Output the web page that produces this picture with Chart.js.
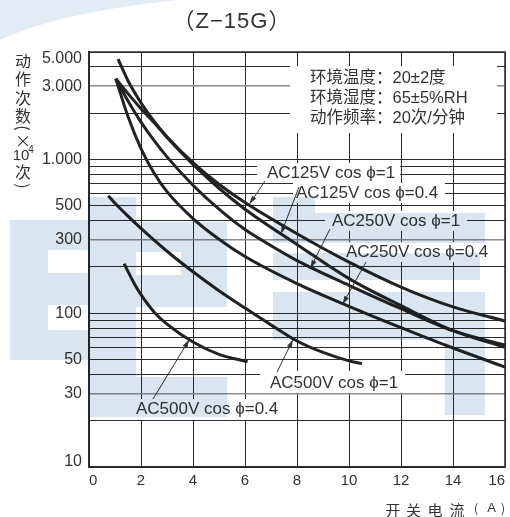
<!DOCTYPE html>
<html>
<head>
<meta charset="utf-8">
<script src="https://cdn.jsdelivr.net/npm/chart.js@4.4.0/dist/chart.umd.min.js"></script>
<style>
  html, body { margin: 0; padding: 0; background: #fff; }
  canvas { display: block; }
</style>
</head>
<body>
<canvas id="life-chart" width="510" height="517"></canvas>
<script>
// Z-15G switch life curves: x = switching current (A), y = operations (x10^4)
const xTickValues = [0, 2, 4, 6, 8, 10, 12, 14, 16];
const yGridValues = [10, 20, 30, 40, 50, 60, 70, 80, 90, 100, 200, 300, 400, 500, 600, 700, 800, 900, 1000, 2000, 3000, 4000, 5000];
const yLabelValues = [10, 30, 50, 100, 300, 500, 1000, 3000, 5000];
const yLabelTexts = ['10', '30', '50', '100', '300', '500', '1.000', '3.000', '5.000'];

const seriesLabels = ['AC125V cos ϕ=1', 'AC125V cos ϕ=0.4', 'AC250V cos ϕ=1', 'AC250V cos ϕ=0.4', 'AC500V cos ϕ=1', 'AC500V cos ϕ=0.4'];

const ac125pf1X = [1.12, 1.5, 2, 2.5, 3, 4, 5, 6, 8, 10, 12, 14, 16];
const ac125pf1Y = [4500, 3250, 2335, 1778, 1407, 953, 690, 525, 329, 215, 148, 110, 89];

const ac125pf04X = [1.03, 1.5, 2, 2.5, 3, 4, 5, 6, 8, 10, 12, 14, 16];
const ac125pf04Y = [3350, 2680, 2140, 1740, 1390, 930, 650, 475, 280, 168, 112, 77, 60];

const ac250pf1X = [1.03, 1.5, 2, 2.5, 3, 4, 5, 6, 7, 8, 10, 12, 14, 16];
const ac250pf1Y = [3350, 2400, 1750, 1330, 1040, 680, 475, 350, 275, 220, 152, 107, 77, 62];

const ac250pf04X = [1.03, 1.5, 2, 2.5, 3, 4, 5, 6, 8, 10, 12, 14, 16];
const ac250pf04Y = [3350, 1905, 1178, 817, 618, 413, 303, 234, 156, 111, 80.6, 59.4, 44.7];

const ac500pf1X = [0.74, 1, 1.5, 2, 3, 4, 5, 6, 7, 8, 9, 10, 10.5];
const ac500pf1Y = [580, 519, 428, 356, 253, 186, 140, 108, 84, 66, 55.6, 49, 47];

const ac500pf04X = [1.35, 1.75, 2, 2.5, 3, 4, 5, 6.1];
const ac500pf04Y = [210, 155, 132, 102, 85, 65, 54, 48.4];

// arrow tips sit on the curves, given in data units
const arrowTipX = [6.18, 7.39, 8.52, 9.76, 7.84, 3.85];
const arrowTipY = [515, 330, 197, 115, 67, 67];

const seriesX = [ac125pf1X, ac125pf04X, ac250pf1X, ac250pf04X, ac500pf1X, ac500pf04X];
const seriesY = [ac125pf1Y, ac125pf04Y, ac250pf1Y, ac250pf04Y, ac500pf1Y, ac500pf04Y];

const LATIN = '"Liberation Sans", Arial, sans-serif';
const CJK = '"Liberation Sans", "Noto Sans CJK SC", sans-serif';
const INK = '#333';

// label layout: text start x, text mid y, white box [x1, y1, x2, y2], arrow tail [x, y]
const labelLayout = [
  { x: 267, y: 173, box: [257, 163, 400, 183], tail: [265, 181] },
  { x: 296, y: 193, box: [293, 183, 445, 203], tail: [299, 187] },
  { x: 332, y: 221, box: [325, 211, 467, 231], tail: [330, 229] },
  { x: 346, y: 252, box: [340, 242, 498, 262], tail: [366, 262] },
  { x: 270, y: 383, box: [260, 371, 405, 393], tail: [277, 372] },
  { x: 136, y: 409, box: [133, 399, 289, 420], tail: [153, 399] }
];

function drawArrow(ctx, x1, y1, x2, y2) {
  ctx.beginPath();
  ctx.moveTo(x1, y1);
  ctx.lineTo(x2, y2);
  ctx.stroke();
  const a = Math.atan2(y2 - y1, x2 - x1), L = 8, W = 2.6;
  ctx.beginPath();
  ctx.moveTo(x2, y2);
  ctx.lineTo(x2 - L * Math.cos(a) + W * Math.sin(a), y2 - L * Math.sin(a) - W * Math.cos(a));
  ctx.lineTo(x2 - L * Math.cos(a) - W * Math.sin(a), y2 - L * Math.sin(a) + W * Math.cos(a));
  ctx.closePath();
  ctx.fill();
}

function rotatedChar(ctx, ch, x, y) {
  ctx.save();
  ctx.translate(x, y);
  ctx.rotate(Math.PI / 2);
  ctx.fillText(ch, 0, 0);
  ctx.restore();
}

const overlay = {
  id: 'overlay',
  beforeDraw(chart) {
    const ctx = chart.ctx;
    ctx.save();
    ctx.fillStyle = '#fff';
    ctx.fillRect(0, 0, chart.width, chart.height);
    ctx.restore();
  },
  beforeDatasetsDraw(chart) {
    // white boxes that break the grid behind texts
    const ctx = chart.ctx;
    ctx.save();
    ctx.fillStyle = '#fff';
    labelLayout.forEach(l => ctx.fillRect(l.box[0], l.box[1], l.box[2] - l.box[0], l.box[3] - l.box[1]));
    ctx.fillRect(290, 66, 207, 67);
    ctx.restore();
  },
  afterDatasetsDraw(chart) {
    const ctx = chart.ctx;
    const xs = chart.scales.x, ys = chart.scales.y;
    const area = chart.chartArea;
    ctx.save();

    // plot frame
    ctx.strokeStyle = '#2b2b2b';
    ctx.lineWidth = 1.5;
    ctx.strokeRect(area.left, area.top, area.right - area.left, area.bottom - area.top);

    ctx.fillStyle = INK;
    ctx.strokeStyle = INK;
    ctx.lineWidth = 1;
    ctx.textBaseline = 'middle';

    // y tick labels; the end ones are pulled inside the axis range
    ctx.font = '16px ' + LATIN;
    ctx.textAlign = 'right';
    yLabelValues.forEach((v, i) => {
      let py = ys.getPixelForValue(v);
      if (v === yLabelValues[yLabelValues.length - 1]) py += 7;
      if (v === yLabelValues[0]) py -= 5;
      ctx.fillText(yLabelTexts[i], 82, py);
    });

    // curve labels and leader arrows
    ctx.font = '17px ' + LATIN;
    ctx.textAlign = 'left';
    labelLayout.forEach((l, i) => {
      ctx.fillText(seriesLabels[i], l.x, l.y);
      drawArrow(ctx, l.tail[0], l.tail[1], xs.getPixelForValue(arrowTipX[i]), ys.getPixelForValue(arrowTipY[i]));
    });

    // test conditions
    ctx.font = '16.5px ' + CJK;
    ctx.fillText('环境温度：20±2度', 310, 78);
    ctx.fillText('环境湿度：65±5%RH', 310, 98);
    ctx.fillText('动作频率：20次/分钟', 310, 118);

    // chart title
    ctx.font = '22px ' + CJK;
    ctx.textAlign = 'center';
    ctx.letterSpacing = '1px';
    ctx.fillText('（Z−15G）', 232, 22);
    ctx.letterSpacing = '0px';

    // y-axis title, stacked vertically
    ctx.font = '16px "Noto Sans CJK SC", sans-serif';
    [['动', 61], ['作', 79], ['次', 97.5], ['数', 115.5], ['×', 141], ['次', 172]].forEach(([c, y]) => ctx.fillText(c, 23, y));
    rotatedChar(ctx, '(', 23, 128);
    rotatedChar(ctx, ')', 23, 186);
    ctx.font = '15px ' + LATIN;
    ctx.fillText('10', 21, 156);
    ctx.font = '10px ' + LATIN;
    ctx.fillText('4', 31, 150);

    // x-axis title
    ctx.font = '15px "Noto Sans CJK SC", sans-serif';
    [['开', 393], ['关', 413.5], ['电', 435], ['流', 457]].forEach(([c, x]) => ctx.fillText(c, x, 510));
    ctx.font = '12px "Noto Sans CJK SC", sans-serif';
    ctx.fillText('(', 476, 508);
    ctx.fillText(')', 503, 508);
    ctx.font = '13px ' + LATIN;
    ctx.fillText('A', 491.5, 508);

    ctx.restore();
  },
  afterDraw(chart) {
    // faint blue watermark laid over everything
    const ctx = chart.ctx;
    ctx.save();
    ctx.globalCompositeOperation = 'multiply';
    ctx.fillStyle = '#e3ecf6';
    ctx.beginPath();
    ctx.moveTo(0, 0);
    ctx.lineTo(178, 0);
    ctx.quadraticCurveTo(60, 12, 0, 40);
    ctx.closePath();
    ctx.fill();
    ctx.fillStyle = '#d9e6f2';
    const blocks = [
      [10, 220, 38, 140], [48, 220, 40, 30], [48, 273, 40, 32], [48, 330, 40, 30],
      [88, 197, 48, 220], [136, 222, 91, 30], [181, 252, 46, 55], [136, 275, 45, 32], [136, 377, 91, 40],
      [273, 197, 42, 16], [273, 213, 212, 30], [273, 253, 207, 27], [273, 292, 212, 48], [445, 340, 40, 75]
    ];
    blocks.forEach(b => ctx.fillRect(b[0], b[1], b[2], b[3]));
    ctx.restore();
  }
};

const greyLines = [30, 300, 3000];

new Chart(document.getElementById('life-chart'), {
  type: 'scatter',
  data: {
    datasets: seriesX.map((xs, i) => ({
      label: seriesLabels[i],
      data: xs.map((x, j) => ({ x: x, y: seriesY[i][j] })),
      showLine: true,
      borderColor: '#222',
      borderWidth: 3,
      pointRadius: 0,
      cubicInterpolationMode: 'monotone',
      fill: false
    }))
  },
  options: {
    responsive: false,
    animation: false,
    devicePixelRatio: 1,
    layout: { padding: { left: 0, right: 4, top: 52, bottom: 0 } },
    plugins: { legend: { display: false }, tooltip: { enabled: false } },
    scales: {
      x: {
        type: 'linear', min: 0, max: 16,
        afterBuildTicks: s => { s.ticks = xTickValues.map(v => ({ value: v })); },
        afterFit: s => { s.height = 50; },
        grid: { color: '#2b2b2b', lineWidth: 1, drawTicks: false },
        border: { color: '#2b2b2b', width: 1.5 },
        ticks: { color: INK, font: { family: LATIN, size: 15 }, padding: 5, align: 'inner', maxRotation: 0, autoSkip: false }
      },
      y: {
        type: 'logarithmic', min: 10, max: 5000,
        afterBuildTicks: s => { s.ticks = yGridValues.map(v => ({ value: v })); },
        afterFit: s => { s.width = 89; },
        grid: {
          color: c => greyLines.includes(c.tick && c.tick.value) ? '#8c8c8c' : '#2b2b2b',
          lineWidth: c => greyLines.includes(c.tick && c.tick.value) ? 1.5 : 1,
          drawTicks: false
        },
        border: { color: '#2b2b2b', width: 1.5 },
        ticks: { display: false, autoSkip: false }
      }
    }
  },
  plugins: [overlay]
});
</script>
</body>
</html>
